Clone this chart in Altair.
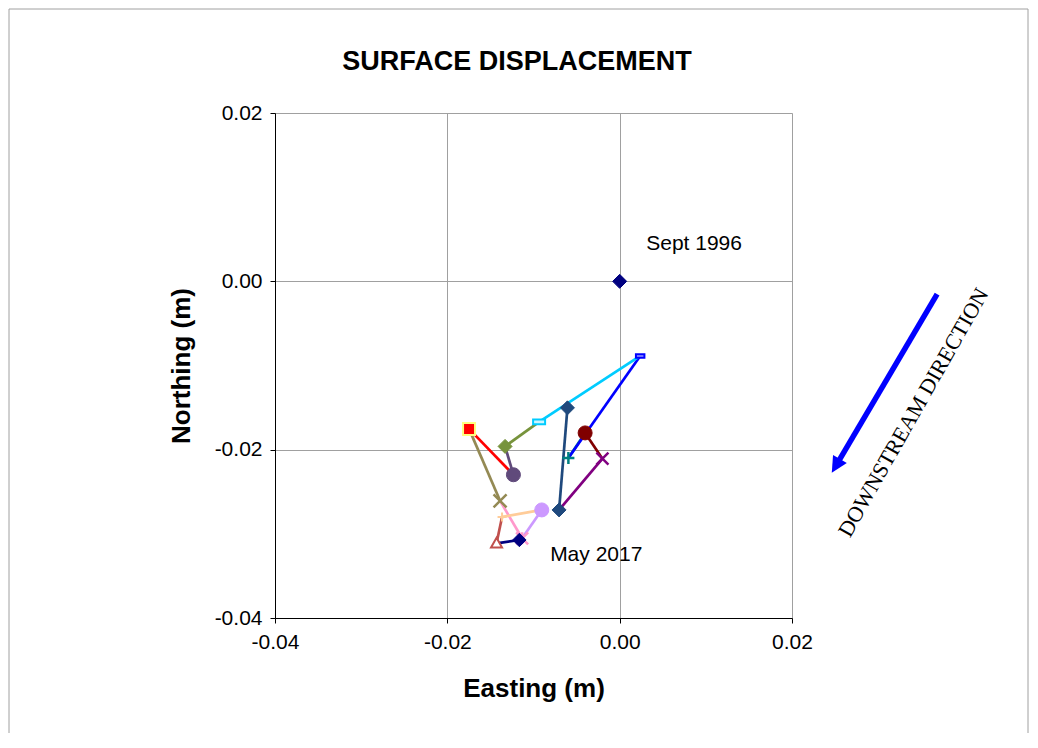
import altair as alt
import pandas as pd

# ---- data: survey points in chronological order (Sept 1996 -> May 2017), metres
east = [0.0, -0.00606, -0.00703, -0.00200, -0.00401, -0.00595, 0.00238, -0.00935,
        -0.01330, -0.01233, -0.01748, -0.01388, -0.01132, -0.00904, -0.01365, -0.01429, -0.01164]
north = [0.0, -0.01503, -0.02716, -0.02107, -0.01801, -0.02099, -0.00887, -0.01670,
         -0.01961, -0.02298, -0.01753, -0.02608, -0.03053, -0.02716, -0.02799, -0.03113, -0.03073]

# ---- styles per point
X_PATH = "M-1,-1L1,1M-1,1L1,-1"
PLUS_PATH = "M-1,0L1,0M0,-1L0,1"
STAR_PATH = "M-1,-1L1,1M-1,1L1,-1M0,-1L0,1"
DASH_PATH = "M-1,-0.4L1,-0.4L1,0.4L-1,0.4Z"
TRI_PATH = "M0,-1L1,0.75L-1,0.75Z"

colors = ["#000080", "#1F497D", "#1F497D", "#800080", "#800000", "#008080", "#0000FF", "#00CCFF",
          "#77933C", "#604A7B", "#FF0000", "#948A54", "#FF99CC", "#CC99FF", "#FFCC99", "#C0504D", "#000080"]
shapes = ["diamond", "diamond", "diamond", X_PATH, "circle", PLUS_PATH, DASH_PATH, DASH_PATH,
          "diamond", "circle", "square", X_PATH, STAR_PATH, "circle", PLUS_PATH, TRI_PATH, "diamond"]
fills = ["#000080", "#1F497D", "#1F497D", "transparent", "#800000", "transparent", "#9999FF", "#CCF5FF",
         "#77933C", "#604A7B", "#FF0000", "transparent", "transparent", "#CC99FF", "transparent", "white", "#000080"]
strokes = ["#000080", "#1F497D", "#1F497D", "#800080", "#800000", "#008080", "#0000FF", "#00CCFF",
           "#77933C", "#604A7B", "#FFFF80", "#948A54", "#FF99CC", "#CC99FF", "#FFCC99", "#C0504D", "#000080"]
sizes = [196, 196, 196, 144, 196, 144, 72, 144, 196, 196, 144, 169, 144, 196, 81, 121, 180]
swidths = [1, 1, 1, 2.5, 1, 2.5, 2, 2, 1, 1, 2, 2.5, 2.5, 1, 2, 2, 1]

pts = pd.DataFrame({"x": east, "y": north, "shape": shapes, "fill": fills,
                    "stroke": strokes, "size": sizes, "sw": swidths})

# segments: each point joined to the previous one (none into the first displaced point)
seg = pd.DataFrame({
    "x": east[1:-1], "y": north[1:-1],
    "x2": east[2:], "y2": north[2:],
    "color": colors[2:],
})

notes = pd.DataFrame({"x": [0.00308, -0.00807], "y": [0.00445, -0.03252],
                      "t": ["Sept 1996", "May 2017"]})

arrow = pd.DataFrame({"x": [0.03684], "y": [-0.00151], "x2": [0.02509], "y2": [-0.02193]})
arrow_head = pd.DataFrame({"x": [0.02509], "y": [-0.02193]})
arrow_text = pd.DataFrame({"x": [0.03409], "y": [-0.01559], "t": ["DOWNSTREAM DIRECTION"]})

xs = alt.Scale(domain=[-0.04, 0.02], nice=False, zero=False)
ys = alt.Scale(domain=[-0.04, 0.02], nice=False, zero=False)
lab = "replace(format(datum.value, '.2f'), '\u2212', '-')"

xaxis = alt.Axis(values=[-0.04, -0.02, 0.0, 0.02], labelExpr=lab, title="Easting (m)",
                 grid=True, gridColor="#A0A0A0", domainColor="black", tickColor="black",
                 tickSize=5, labelFontSize=21, labelColor="black", labelPadding=8,
                 titleFontSize=26, titleFontWeight="bold", titleColor="black",
                 titlePadding=23, labelFlush=False)
yaxis = alt.Axis(values=[-0.04, -0.02, 0.0, 0.02], labelExpr=lab, title="Northing (m)",
                 grid=True, gridColor="#A0A0A0", domainColor="black", tickColor="black",
                 tickSize=5, labelFontSize=21, labelColor="black", labelPadding=8,
                 titleFontSize=26, titleFontWeight="bold", titleColor="black",
                 titlePadding=20, labelFlush=False)

X = alt.X("x:Q", scale=xs, axis=xaxis)
Y = alt.Y("y:Q", scale=ys, axis=yaxis)

border = alt.Chart(pd.DataFrame({"a": [0]})).mark_rect(
    fill=None, stroke="#A0A0A0", strokeWidth=1
).encode(x=alt.value(-266), x2=alt.value(517 + 236), y=alt.value(-104), y2=alt.value(505 + 130))

lines = alt.Chart(seg).mark_rule(strokeWidth=2.7).encode(
    x=X, y=Y, x2="x2:Q", y2="y2:Q", color=alt.Color("color:N", scale=None)
)

markers = alt.Chart(pts).mark_point(opacity=1).encode(
    x=X, y=Y,
    shape=alt.Shape("shape:N", scale=None),
    fill=alt.Fill("fill:N", scale=None),
    stroke=alt.Stroke("stroke:N", scale=None),
    size=alt.Size("size:Q", scale=None),
    strokeWidth=alt.StrokeWidth("sw:Q", scale=None),
)

note_text = alt.Chart(notes).mark_text(align="left", baseline="middle", fontSize=21,
                                       font="Liberation Sans", color="black").encode(
    x=X, y=Y, text="t:N")

arrow_line = alt.Chart(arrow).mark_rule(strokeWidth=5.5, color="#0000FF").encode(
    x=X, y=Y, x2="x2:Q", y2="y2:Q")
arrow_tip = alt.Chart(arrow_head).mark_point(
    shape="M-1,-1L1,-1L0,1Z", size=256, filled=True, opacity=1, color="#0000FF",
    angle=30.6).encode(x=X, y=Y)
arrow_label = alt.Chart(arrow_text).mark_text(
    angle=299.6, fontSize=22, font="Liberation Serif", color="black",
    align="center", baseline="middle").encode(x=X, y=Y, text="t:N")

title = alt.Chart(pd.DataFrame({"t": ["SURFACE DISPLACEMENT"]})).mark_text(
    fontSize=27, fontWeight="bold", font="Liberation Sans", color="black",
    align="center", baseline="middle").encode(
    x=alt.value(242), y=alt.value(-51), text="t:N")

chart = alt.layer(border, lines, markers, note_text, arrow_line, arrow_tip, arrow_label, title).properties(
    width=517, height=505,
    padding={"left": 267, "top": 105, "right": 238, "bottom": 115},
    autosize=alt.AutoSizeParams(type="none"),
    background="white",
).configure_view(stroke="#808080", strokeWidth=1).configure(font="Liberation Sans")

chart.save("out.html", embed_options={"renderer": "svg", "actions": False})
